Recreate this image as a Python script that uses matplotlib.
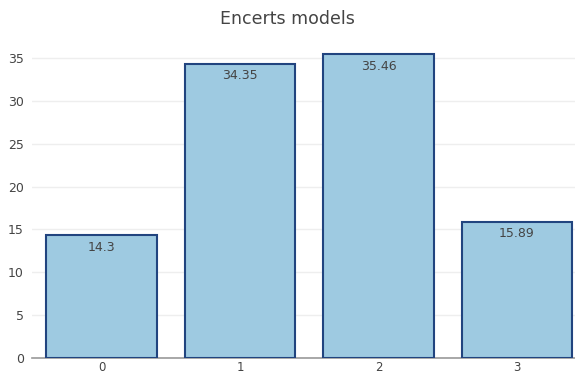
import matplotlib.pyplot as plt

categories = ["0", "1", "2", "3"]
values = [14.3, 34.35, 35.46, 15.89]
yticks = [0, 5, 10, 15, 20, 25, 30, 35]

fill = "#9ecae1"
edge = "#21447f"
text_col = "#444444"

plt.rcParams["font.family"] = ["DejaVu Sans"]

W, H = 575, 374
fig = plt.figure(figsize=(W / 100, H / 100), dpi=100)
ax = fig.add_axes([32.25 / W, 16 / H, 554 / W, 320 / H])

xs = list(range(len(values)))
ax.bar(xs, values, width=0.8, color=fill, edgecolor=edge, linewidth=1.5, zorder=3)
for x, v in zip(xs, values):
    ax.annotate(f"{v:g}", (x, v), xytext=(0, -4), textcoords="offset points",
                ha="center", va="top", fontsize=9, color=text_col, zorder=4)

ax.set_xlim(-0.5, 3.5)
ax.set_ylim(0, max(values) * 1.0527)
ax.set_xticks(xs)
ax.set_xticklabels(categories)
ax.set_yticks(yticks)
ax.grid(axis="y", color="#eeeeee", linewidth=1, zorder=0)

for s in ["top", "right", "left"]:
    ax.spines[s].set_visible(False)
ax.spines["bottom"].set_color("#999999")
ax.spines["bottom"].set_linewidth(1.2)
ax.spines["bottom"].set_zorder(2)

ax.tick_params(axis="x", length=0, pad=2, labelsize=8.5, labelcolor=text_col)
ax.tick_params(axis="y", length=0, pad=6, labelsize=9, labelcolor=text_col)

fig.text(0.5, 1 - 19 / H, "Encerts models", ha="center", va="center",
         fontsize=12.5, color=text_col)

fig.savefig("out.png", dpi=100)
